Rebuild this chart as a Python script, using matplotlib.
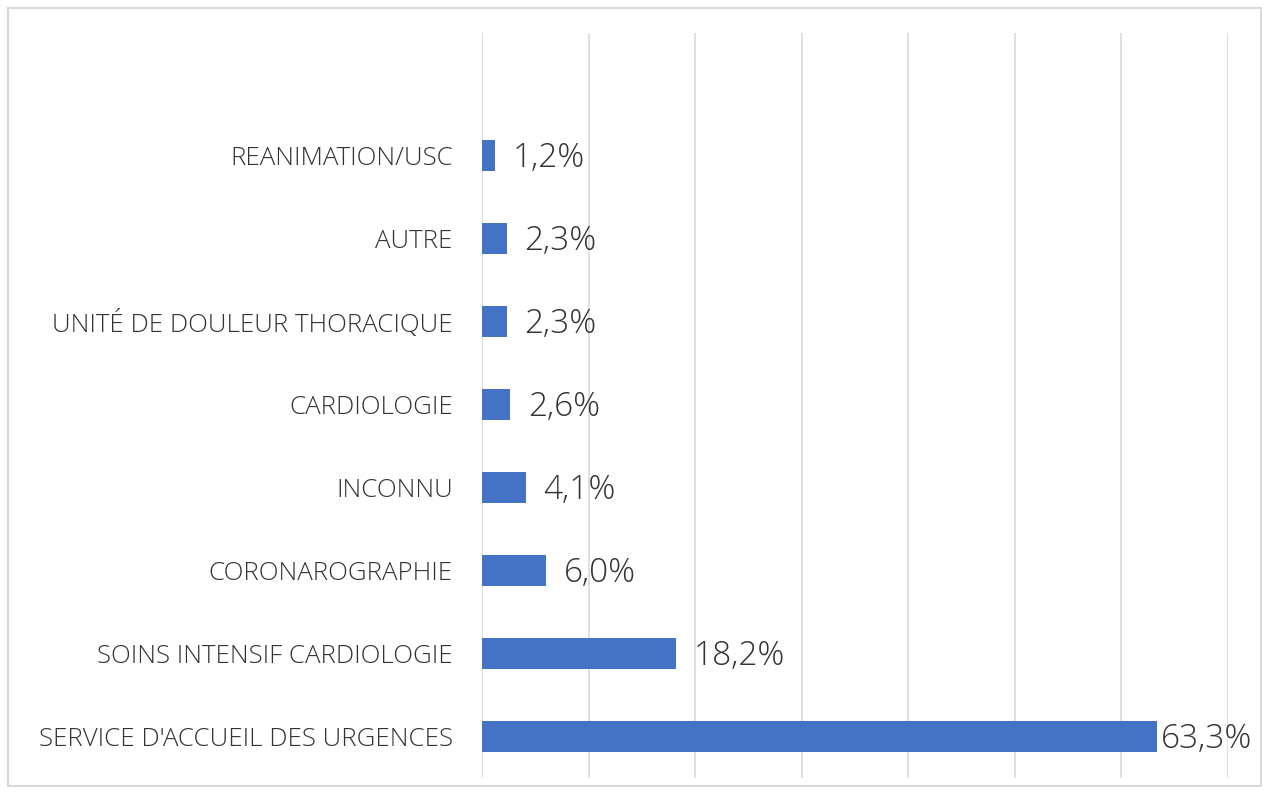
import matplotlib.pyplot as plt
from matplotlib.patches import Rectangle

categories = ["SERVICE D'ACCUEIL DES URGENCES", "SOINS INTENSIF CARDIOLOGIE", "CORONAROGRAPHIE",
              "INCONNU", "CARDIOLOGIE", "UNITÉ DE DOULEUR THORACIQUE", "AUTRE", "REANIMATION/USC"]
values = [63.3, 18.2, 6.0, 4.1, 2.6, 2.3, 2.3, 1.2]
labels = ["63,3%", "18,2%", "6,0%", "4,1%", "2,6%", "2,3%", "2,3%", "1,2%"]

plt.rcParams['font.family'] = ['Open Sans', 'DejaVu Sans']

fig = plt.figure(figsize=(12.68, 7.94), dpi=100)
ax = fig.add_axes([482/1268, 16/794, 746/1268, 745/794])

y = list(range(len(categories)))
ax.barh(y, values, height=0.375, color='#4472c4', zorder=3)

ax.set_xlim(0, 70)
ax.set_ylim(-0.5, 8.47)
ax.set_xticks(range(0, 71, 10))
ax.xaxis.grid(True, color='#d9d9d9', linewidth=1.2)
ax.set_axisbelow(True)
ax.tick_params(axis='x', length=0, labelbottom=False)
ax.tick_params(axis='y', length=0, pad=21)
ax.set_yticks(y)
ax.set_yticklabels(categories, fontsize=18.6, color='#333333', fontweight='light')
for s in ax.spines.values():
    s.set_visible(False)

for i, (v, lab) in enumerate(zip(values, labels)):
    off = 3 if v > 60 else 13
    ax.annotate(lab, (v, i), xytext=(off, -2), textcoords='offset points',
                va='center', ha='left', fontsize=24, color='#333333', fontweight='light')

fig.patches.append(Rectangle((7.5/1268, 8/794), 1253/1268, 778/794, transform=fig.transFigure,
                             fill=False, edgecolor='#d9d9d9', linewidth=1.5))

fig.savefig('out.png', dpi=100, facecolor='white')
